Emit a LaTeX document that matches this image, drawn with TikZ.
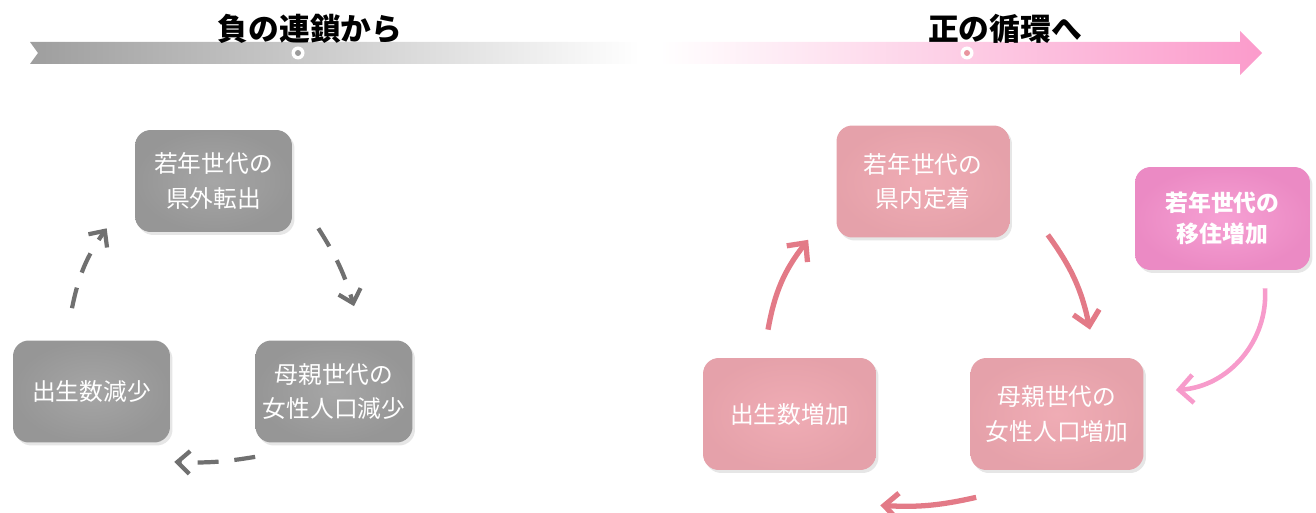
\documentclass[tikz,border=0pt]{standalone}
\usepackage{fontspec}
\newfontfamily\jp{Noto Sans CJK JP}
\usetikzlibrary{arrows.meta,shadows}

\definecolor{greyfill}{HTML}{9E9E9E}
\definecolor{greyline}{HTML}{707070}
\definecolor{pinkfill}{HTML}{EFA8B1}
\definecolor{pinkline}{HTML}{E37A87}
\definecolor{hotfill}{HTML}{F590CC}
\definecolor{hotline}{HTML}{F79BCB}
\definecolor{barpink}{HTML}{FB9BCB}

\tikzset{
  box/.style={rounded corners=9pt, minimum width=3.14cm, minimum height=2.04cm,
    align=center, text=white, font=\jp\fontsize{13.5}{19.5}\selectfont,
    drop shadow={opacity=0.2, shadow xshift=0.05cm, shadow yshift=-0.06cm}},
  greybox/.style={box, inner color=greyfill!92!white, outer color=greyfill!95!black},
  pinkbox/.style={box, minimum width=3.46cm, minimum height=2.24cm,
    inner color=pinkfill!95!white, outer color=pinkfill!96!black},
  hotbox/.style={box, minimum width=3.5cm, minimum height=2.06cm,
    font=\jp\bfseries\fontsize{13}{18}\selectfont,
    inner color=hotfill!85!white, outer color=hotfill!96!black},
  greyarrow/.style={line width=2.4pt, greyline, dash pattern=on 12pt off 9pt,
    -{Straight Barb[length=7pt, width=13pt, line width=2.4pt]}},
  pinkarrow/.style={line width=3pt, pinkline,
    -{Straight Barb[length=8pt, width=15pt, line width=3pt]}},
  hotarrow/.style={line width=2.6pt, hotline,
    -{Straight Barb[length=8pt, width=16pt, line width=2.6pt]}},
  title/.style={font=\jp\bfseries\fontsize{17.5}{20}\selectfont}
}

\begin{document}
\begin{tikzpicture}[x=0.02cm, y=-0.02cm]

  \useasboundingbox (0,0) rectangle (1316,513);

  \shade[left color=greyfill, right color=white]
    (30,42) -- (640,42) -- (640,64) -- (30,64) -- (38,53) -- cycle;

  \shade[left color=white, right color=barpink]
    (660,42) -- (1240,42) -- (1240,31) -- (1262,53) -- (1240,75) -- (1240,64) -- (660,64) -- cycle;

  \fill[white] (298,53) circle (6.5);
  \fill[greyline!70] (298,53) circle (3);
  \fill[white] (967,53) circle (6.5);
  \fill[pinkline!80] (967,53) circle (3);

  \node[title] (negtitle) at (310,29) {負の連鎖から};
  \node[title] (postitle) at (1005,29) {正の循環へ};

  \node[greybox] (gtop) at (213.5,181) {若年世代の\\県外転出};

  \node[greybox] (gmother) at (334,391.5) {母親世代の\\女性人口減少};

  \node[greybox] (gbirth) at (91.5,391.5) {出生数減少};

  \draw[greyarrow] ([shift={(26,-4)}]gtop.south east) to[bend left=8] ([shift={(20,-34)}]gmother.north);

  \draw[greyarrow] ([shift={(0,14)}]gmother.south west) to[bend left=6] ([shift={(4,19)}]gbirth.south east);

  \draw[greyarrow] ([shift={(-19.5,-32)}]gbirth.north) to[bend left=12] ([shift={(-28,-4)}]gtop.south west);

  \node[pinkbox] (ptop) at (923,181.5) {若年世代の\\県内定着};

  \node[pinkbox] (pmother) at (1057,414) {母親世代の\\女性人口増加};

  \node[pinkbox] (pbirth) at (789.5,414) {出生数増加};

  \node[hotbox] (phot) at (1222.5,218.5) {若年世代の\\移住増加};

  \draw[pinkarrow] ([shift={(38,-3)}]ptop.south east) to[bend left=12] ([shift={(33,-28)}]pmother.north);

  \draw[pinkarrow] ([shift={(6,27)}]pmother.south west) to[bend left=8] ([shift={(4,35)}]pbirth.south east);

  \draw[pinkarrow] ([shift={(-21.5,-28)}]pbirth.north) to[bend left=14] ([shift={(-28,2)}]ptop.south west);

  \draw[hotarrow] ([shift={(42.5,18)}]phot.south) to[bend left=45] ([shift={(32,-24)}]pmother.east);

\end{tikzpicture}
\end{document}
